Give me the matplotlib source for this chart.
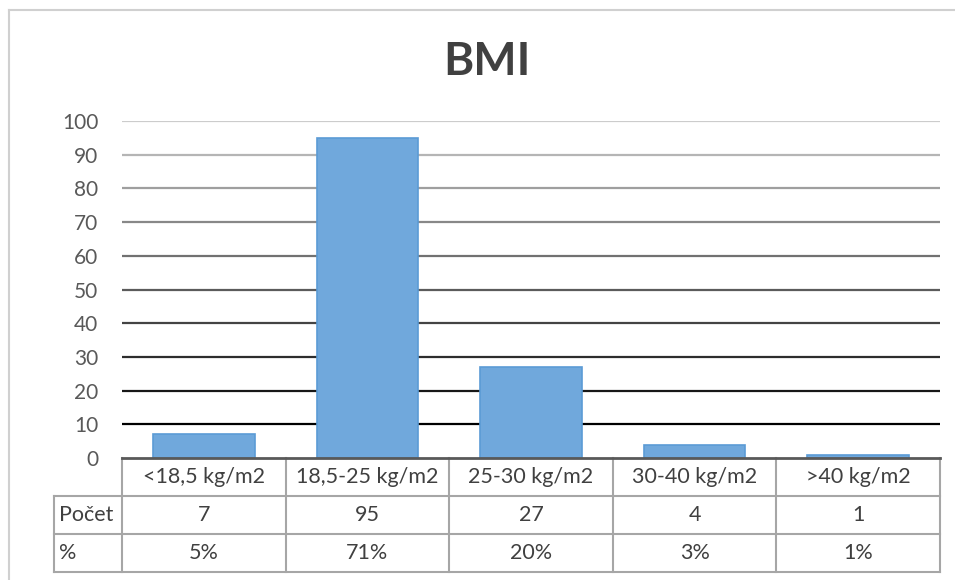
import matplotlib
matplotlib.use("Agg")
import matplotlib.pyplot as plt
from matplotlib.lines import Line2D
import numpy as np

# data
kategorie = ["<18,5 kg/m2", "18,5-25 kg/m2", "25-30 kg/m2", "30-40 kg/m2", ">40 kg/m2"]
pocet = [7, 95, 27, 4, 1]
procenta = ["5%", "71%", "20%", "3%", "1%"]
radky = ["Počet", "%"]
y_ticks = [0, 10, 20, 30, 40, 50, 60, 70, 80, 90, 100]

W, H = 955, 580
plt.rcParams['font.family'] = ['Lato', 'DejaVu Sans']
txt_col = '#404040'
fs = 15.5

fig = plt.figure(figsize=(W / 100, H / 100), dpi=100)

def fx(px):
    return px / W

def fy(py):
    return 1 - py / H

# rozlozeni v pixelech
left, right = 122, 940
y0, y100 = 458, 121
lab_left = 54
tab_bottom = 572

ax = fig.add_axes([fx(left), fy(y0), fx(right - left), (y0 - y100) / H])
ax.set_xlim(-0.5, len(kategorie) - 0.5)
ax.set_ylim(0, 100)

# mrizka - od svetle sede nahore po cernou dole
greys = np.linspace(0.80, 0.0, len(y_ticks) - 1)
for t, g in zip(y_ticks[:0:-1], greys):
    ax.axhline(t, color=str(g), lw=1.6, zorder=1)

x = np.arange(len(kategorie))
ax.bar(x, pocet, width=0.62, color='#70A8DC', edgecolor='#5B9BD5', lw=1.2, zorder=2)

ax.set_yticks(y_ticks)
ax.set_yticklabels([str(t) for t in y_ticks], fontsize=15, color='#595959')
ax.tick_params(axis='y', length=0, pad=17)
ax.set_xticks([])
for s in ax.spines.values():
    s.set_visible(False)

# tabulka pod grafem
cat_w = (right - left) / len(kategorie)
label_w = (left - lab_left) / cat_w
tab = fig.add_axes([fx(lab_left), fy(tab_bottom), fx(right - lab_left), (tab_bottom - y0) / H])
tab.set_xlim(-0.5 - label_w, len(kategorie) - 0.5)
tab.set_ylim(0, 3)
tab.axis('off')

lc = '#A6A6A6'
lw = 1.5
xl = -0.5 - label_w
xr = len(kategorie) - 0.5
# vodorovne cary
tab.plot([-0.5, xr], [3, 3], color='#595959', lw=2, clip_on=False, zorder=3)
tab.plot([xl, xr], [2, 2], color=lc, lw=lw, clip_on=False)
tab.plot([xl, xr], [1, 1], color=lc, lw=lw, clip_on=False)
tab.plot([xl, xr], [0, 0], color=lc, lw=lw, clip_on=False)
# svisle cary
tab.plot([xl, xl], [0, 2], color=lc, lw=lw, clip_on=False)
for i in range(len(kategorie) + 1):
    tab.plot([i - 0.5, i - 0.5], [0, 3], color=lc, lw=lw, clip_on=False)

for i, k in enumerate(kategorie):
    tab.text(i, 2.5, k, ha='center', va='center', fontsize=fs, color=txt_col)
    tab.text(i, 1.5, str(pocet[i]), ha='center', va='center', fontsize=fs, color=txt_col)
    tab.text(i, 0.5, procenta[i], ha='center', va='center', fontsize=fs, color=txt_col)
for j, r in enumerate(radky):
    tab.text(xl + 0.03, 1.5 - j, r, ha='left', va='center', fontsize=fs, color=txt_col)

fig.text(fx(487), fy(62), "BMI", ha='center', va='center', fontsize=33,
         fontweight='bold', color=txt_col)

# ramecek grafu
fig.add_artist(Line2D([fx(9), fx(9)], [fy(10), 0], color='#D0D0D0', lw=1.5))
fig.add_artist(Line2D([fx(9), 1], [fy(10), fy(10)], color='#D0D0D0', lw=1.5))

fig.savefig("out.png", dpi=100)
